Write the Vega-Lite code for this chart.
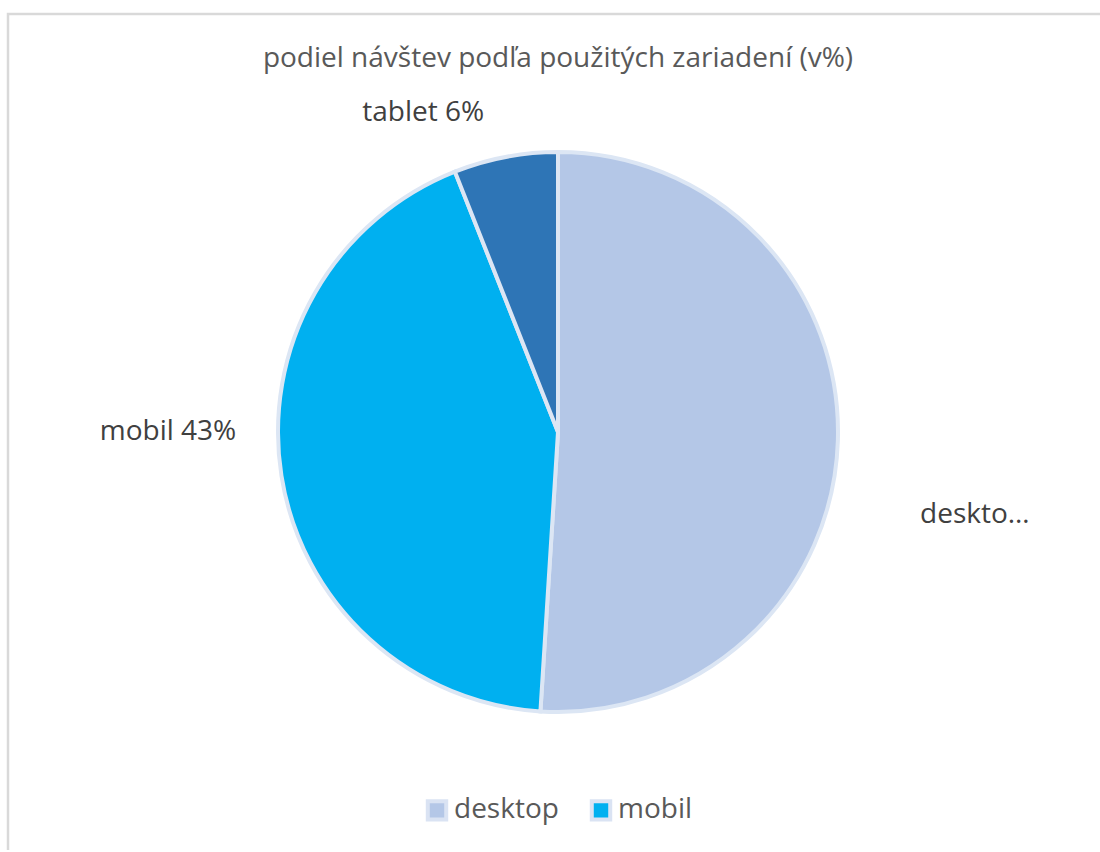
{
  "$schema": "https://vega.github.io/schema/vega-lite/v6.json",
  "width": 1100,
  "height": 836,
  "autosize": "none",
  "padding": {"left": 8, "top": 14, "right": 0, "bottom": 0},
  "background": "white",
  "title": {
    "text": "podiel návštev podľa použitých zariadení (v%)",
    "orient": "top",
    "anchor": "middle",
    "baseline": "alphabetic",
    "offset": -82,
    "font": "Open Sans",
    "fontSize": 28,
    "fontWeight": "normal",
    "color": "#595959"
  },
  "data": {
    "values": [
      {"device": "desktop", "value": 51, "label": "deskto…"},
      {"device": "mobil", "value": 43, "label": "mobil 43%"},
      {"device": "tablet", "value": 6, "label": "tablet 6%"}
    ]
  },
  "transform": [
    {"stack": "value", "groupby": [], "sort": [{"field": "device", "order": "ascending"}], "as": ["v0", "v1"]}
  ],
  "layer": [
    {
      "transform": [{"aggregate": [{"op": "count", "as": "n"}]}],
      "mark": {"type": "rect", "fill": null, "fillOpacity": 0, "stroke": "#d9d9d9", "strokeWidth": 2.5, "strokeDash": [1092, 1944, 836, 4000]},
      "encoding": {}
    },
    {
      "mark": {"type": "arc", "outerRadius": 280, "stroke": "#dce6f4", "strokeWidth": 4},
      "encoding": {
        "theta": {"field": "v0", "type": "quantitative", "scale": {"domain": [0, 100]}},
        "theta2": {"field": "v1"},
        "color": {
          "field": "device",
          "type": "nominal",
          "scale": {"domain": ["desktop", "mobil", "tablet"], "range": ["#b4c7e7", "#00b0f0", "#2e75b6"]},
          "legend": {
            "values": ["desktop", "mobil"],
            "title": null,
            "orient": "none",
            "legendX": 415,
            "legendY": 782,
            "direction": "horizontal",
            "symbolType": "square",
            "symbolSize": 340,
            "symbolStrokeColor": "#dae3f3",
            "symbolStrokeWidth": 4,
            "labelFont": "Open Sans",
            "labelFontSize": 28,
            "labelColor": "#595959",
            "labelOffset": 3,
            "columnPadding": 24
          }
        }
      }
    },
    {
      "transform": [{"filter": "datum.device == 'desktop'"}],
      "mark": {"type": "text", "radius": 425, "thetaOffset": 1.767, "align": "center", "baseline": "middle", "font": "Open Sans", "fontSize": 28, "color": "#404040"},
      "encoding": {
        "theta": {"field": "v0", "type": "quantitative", "stack": null},
        "text": {"field": "label"}
      }
    },
    {
      "transform": [{"filter": "datum.device == 'mobil'"}],
      "mark": {"type": "text", "radius": 390, "thetaOffset": 1.508, "align": "center", "baseline": "middle", "font": "Open Sans", "fontSize": 28, "color": "#404040"},
      "encoding": {
        "theta": {"field": "v0", "type": "quantitative", "stack": null},
        "text": {"field": "label"}
      }
    },
    {
      "transform": [{"filter": "datum.device == 'tablet'"}],
      "mark": {"type": "text", "radius": 346, "thetaOffset": -0.023, "align": "center", "baseline": "middle", "font": "Open Sans", "fontSize": 28, "color": "#404040"},
      "encoding": {
        "theta": {"field": "v0", "type": "quantitative", "stack": null},
        "text": {"field": "label"}
      }
    }
  ]
}
